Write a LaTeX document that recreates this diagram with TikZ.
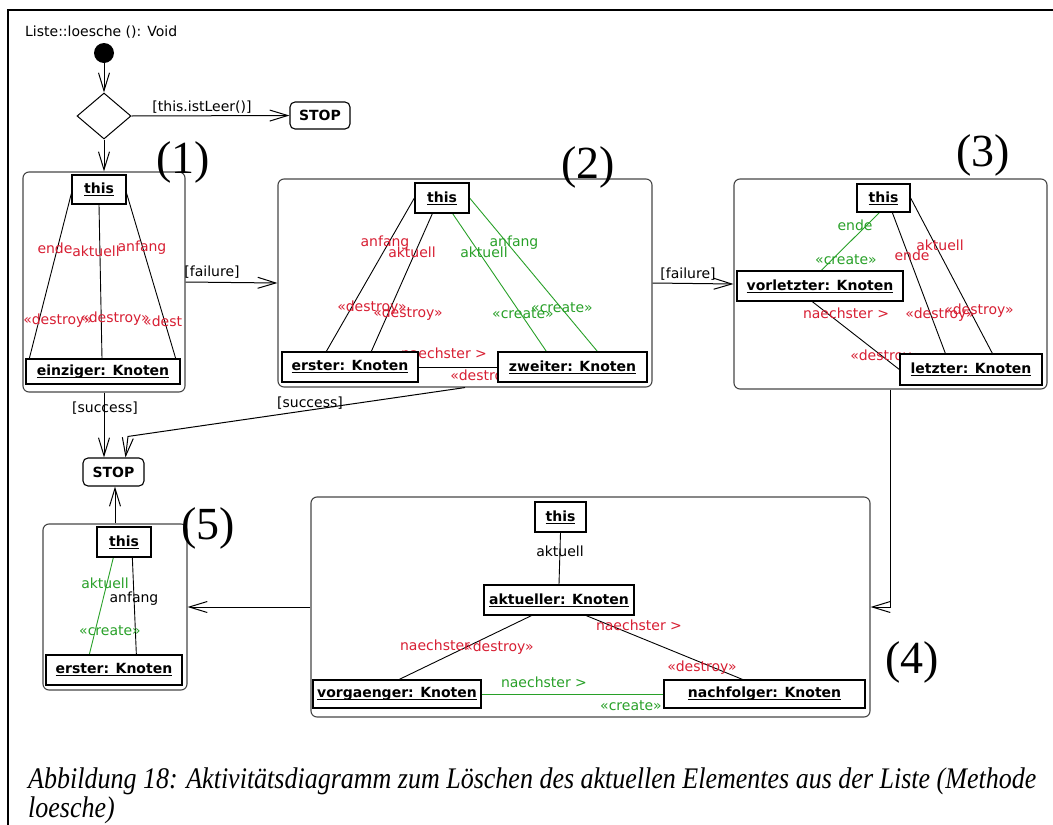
\documentclass[tikz,border=0pt]{standalone}
\usepackage{fontspec}
\usepackage{graphicx}
\setmainfont{DejaVu Sans}
\newfontfamily\capfont{Liberation Serif}
\usetikzlibrary{arrows.meta,shapes.geometric}
\definecolor{delred}{RGB}{215,30,50}
\definecolor{newgreen}{RGB}{40,160,40}
\definecolor{edgegray}{RGB}{70,70,70}
% bold object name with a rule just under the baseline
\newcommand\objtext[1]{\setbox0\hbox{\bfseries #1}\rlap{\rule[-2.6pt]{\wd0}{1.1pt}}\box0}
% caption line, set a little taller than the plain font
\newcommand\captionline[1]{\scalebox{1}[1.15]{#1}}
\pgfdeclarelayer{back}
\pgfdeclarelayer{mid}
\pgfsetlayers{back,mid,main}
\tikzset{
  stagebox/.style={draw=edgegray, line width=1.1pt, rounded corners=6pt, inner sep=0pt},
  objbox/.style={draw=black, line width=1.3pt, fill=white, inner sep=0pt, font=\fontsize{14}{16}\selectfont},
  stopbox/.style={draw=black, line width=1.1pt, rounded corners=5pt, fill=white, inner sep=0pt, font=\fontsize{14}{16}\selectfont\bfseries},
  lbl/.style={font=\fontsize{14}{16}\selectfont, inner sep=0pt},
  dlbl/.style={lbl, text=delred},
  clbl/.style={lbl, text=newgreen},
  link/.style={line width=0.9pt},
  newlink/.style={line width=0.9pt, draw=newgreen},
  flow/.style={line width=1pt, -{Straight Barb[length=18pt,width=11pt,line width=1pt]}},
  stepno/.style={font=\capfont\fontsize{46}{46}\selectfont, inner sep=0pt},
  captext/.style={font=\capfont\itshape\fontsize{26}{30}\selectfont, inner sep=0pt, anchor=base west},
}
\begin{document}
\begin{tikzpicture}[x=1pt,y=-1pt]
\useasboundingbox (0,0) rectangle (1053,825);
\draw[line width=1.3pt] (1053,10) -- (8,10) -- (8,825);

% ---------- start, decision, first stop ----------
\node[lbl, anchor=west] (title) at (25,32) {Liste::loesche (): Void};
\node[circle, fill=black, minimum size=20pt, inner sep=0pt] (start) at (104,53) {};
\node[diamond, draw, line width=1pt, minimum width=54pt, minimum height=46pt, inner sep=0pt, fill=white] (dec) at (104,116) {};
\node[stopbox, minimum width=60pt, minimum height=27pt] (stopA) at (320,115.5) {STOP};
\node[stopbox, minimum width=61pt, minimum height=28pt] (stopB) at (113.5,472) {STOP};

% ---------- the five stages ----------
\begin{pgfonlayer}{back}
\node[stagebox, minimum width=162pt, minimum height=220pt] (f1) at (104,282) {};
\node[stagebox, minimum width=374pt, minimum height=208pt] (f2) at (465,283) {};
\node[stagebox, minimum width=313pt, minimum height=210pt] (f3) at (890.5,284) {};
\node[stagebox, minimum width=559pt, minimum height=220pt] (f4) at (590.5,607) {};
\node[stagebox, minimum width=144pt, minimum height=166pt] (f5) at (115,607) {};
\end{pgfonlayer}

% stage 1
\node[objbox, minimum width=54pt, minimum height=29pt] (t1) at (99,189.5) {\objtext{this}};
\node[objbox, minimum width=154pt, minimum height=25pt] (e1) at (103,371.5) {\objtext{einziger: Knoten}};
% stage 2
\node[objbox, minimum width=54pt, minimum height=30pt] (t2) at (442,198) {\objtext{this}};
\node[objbox, minimum width=136pt, minimum height=30pt] (er2) at (350,367) {\objtext{erster: Knoten}};
\node[objbox, minimum width=149pt, minimum height=30pt] (zw2) at (572.5,367) {\objtext{zweiter: Knoten}};
% stage 3
\node[objbox, minimum width=53pt, minimum height=28pt] (t3) at (883.5,198) {\objtext{this}};
\node[objbox, minimum width=166pt, minimum height=30pt] (vl3) at (820,286) {\objtext{vorletzter: Knoten}};
\node[objbox, minimum width=142pt, minimum height=31pt] (lz3) at (971,369.5) {\objtext{letzter: Knoten}};
% stage 4
\node[objbox, minimum width=51pt, minimum height=30pt] (t4) at (560.5,517) {\objtext{this}};
\node[objbox, minimum width=150pt, minimum height=30pt] (ak4) at (559,600) {\objtext{aktueller: Knoten}};
\node[objbox, minimum width=168pt, minimum height=28pt] (vg4) at (397,694) {\objtext{vorgaenger: Knoten}};
\node[objbox, minimum width=201pt, minimum height=28pt] (nf4) at (764.5,694) {\objtext{nachfolger: Knoten}};
% stage 5
\node[objbox, minimum width=54pt, minimum height=30pt] (t5) at (124,542) {\objtext{this}};
\node[objbox, minimum width=136pt, minimum height=30pt] (er5) at (114,670) {\objtext{erster: Knoten}};

% stage numbers
\node[stepno] (n1) at (183,162) {(1)};
\node[stepno] (n2) at (588,167) {(2)};
\node[stepno] (n3) at (983,155) {(3)};
\node[stepno] (n4) at (912,662) {(4)};
\node[stepno] (n5) at (208,528) {(5)};

\begin{pgfonlayer}{mid}
% ---------- control flow ----------
\draw[flow] (start) -- (dec.north);
\draw[flow] (dec.east) -- (stopA.west);
\node[lbl] (cIstLeer) at (202,107) {[this.istLeer()]};
\draw[flow] (dec.south) -- (f1.north);
\draw[flow] (f1.east) -- (f2.west);
\node[lbl] (cFail1) at (212,272) {[failure]};
\draw[flow] (f2.east) -- (f3.west);
\node[lbl] (cFail2) at (688,274) {[failure]};
\draw[flow] (f1.south) -- (f1.south |- stopB.north);
\node[lbl] (cSucc1) at (105,408) {[success]};
\draw[flow] (f2.south) -- ([xshift=14.5pt,yshift=21pt]stopB.north) -- ([xshift=12pt]stopB.north);
\node[lbl] (cSucc2) at (310,403) {[success]};
\draw[flow] (f3.south) |- (f4.east);
\draw[flow] (f4.west) -- (f5.east);
\draw[flow] (f5.north) -- (f5.north |- stopB.south);

% ---------- stage 1 links ----------
\draw[link] ([yshift=-4pt]t1.west) -- ([xshift=4pt]e1.north west);
\draw[link] (t1.south) -- ([xshift=-1pt]e1.north);
\draw[link] ([yshift=-4pt]t1.east) -- ([xshift=-5pt]e1.north east);
\node[dlbl] at (55,248) {ende};
\node[dlbl] at (96,251) {aktuell};
\node[dlbl] at (142,248) {anfang};
\node[dlbl] at (58,321) {«destroy»};
\node[dlbl] at (115,319) {«destroy»};
\node[dlbl, anchor=west] at (143,321) {«dest};

% ---------- stage 2 links ----------
\draw[link] (t2.west) -- ([xshift=45pt]er2.north west);
\draw[link] ([xshift=18pt]t2.south west) -- ([xshift=90pt]er2.north west);
\draw[newlink] ([xshift=-17pt]t2.south east) -- ([xshift=49pt]zw2.north west);
\draw[newlink] (t2.east) -- ([xshift=100pt]zw2.north west);
\draw[link] (er2.east) -- (zw2.west);
\node[dlbl] at (385,243) {anfang};
\node[dlbl] at (412,252) {aktuell};
\node[clbl] at (484,252) {aktuell};
\node[clbl] at (514,243) {anfang};
\node[dlbl] at (372,308) {«destroy»};
\node[dlbl] at (408,314) {«destroy»};
\node[clbl] at (523,314) {«create»};
\node[clbl] at (562,308) {«create»};
\node[dlbl] at (444,353) {naechster >};
\node[dlbl] at (485,377) {«destroy»};

% ---------- stage 3 links ----------
\draw[newlink] ([xshift=23pt]t3.south west) -- ([xshift=85pt]vl3.north west);
\draw[link] ([xshift=36pt]t3.south west) -- ([xshift=46pt]lz3.north west);
\draw[link] (t3.east) -- ([xshift=93pt]lz3.north west);
\draw[link] ([xshift=76pt]vl3.south west) -- (lz3.west);
\node[clbl] at (855,225) {ende};
\node[clbl] at (846,260) {«create»};
\node[dlbl] at (940,245) {aktuell};
\node[dlbl] at (912,255) {ende};
\node[dlbl] at (846,313) {naechster >};
\node[dlbl] at (940,315) {«destroy»};
\node[dlbl] at (979,311) {«destroy»};
\node[dlbl] at (885,357) {«destroy»};

% ---------- stage 4 links ----------
\draw[link] (t4.south) -- (ak4.north);
\node[lbl] at (560,551) {aktuell};
\draw[link] ([xshift=48pt]ak4.south west) -- ([xshift=87pt]vg4.north west);
\draw[link] ([xshift=103pt]ak4.south west) -- ([xshift=79pt]nf4.north west);
\draw[newlink] (vg4.east) -- (nf4.west);
\node[dlbl] at (435,645) {naechster};
\node[dlbl] at (499,648) {«destroy»};
\node[dlbl] at (639,625) {naechster >};
\node[dlbl] at (702,668) {«destroy»};
\node[clbl] at (544,682) {naechster >};
\node[clbl] at (631,706) {«create»};

% ---------- stage 5 links ----------
\draw[newlink] ([xshift=17pt]t5.south west) -- ([xshift=44pt]er5.north west);
\draw[link] ([xshift=36pt]t5.south west) -- ([xshift=91pt]er5.north west);
\node[clbl] at (105,583) {aktuell};
\node[lbl] at (134,599) {anfang};
\node[clbl] at (110,631) {«create»};
\end{pgfonlayer}

% ---------- caption ----------
\node[captext] (cap1) at (28,788) {\captionline{Abbildung 18: Aktivitätsdiagramm zum Löschen des aktuellen Elementes aus der Liste (Methode}};
\node[captext] (cap2) at (28,817) {\captionline{loesche)}};
\end{tikzpicture}
\end{document}
